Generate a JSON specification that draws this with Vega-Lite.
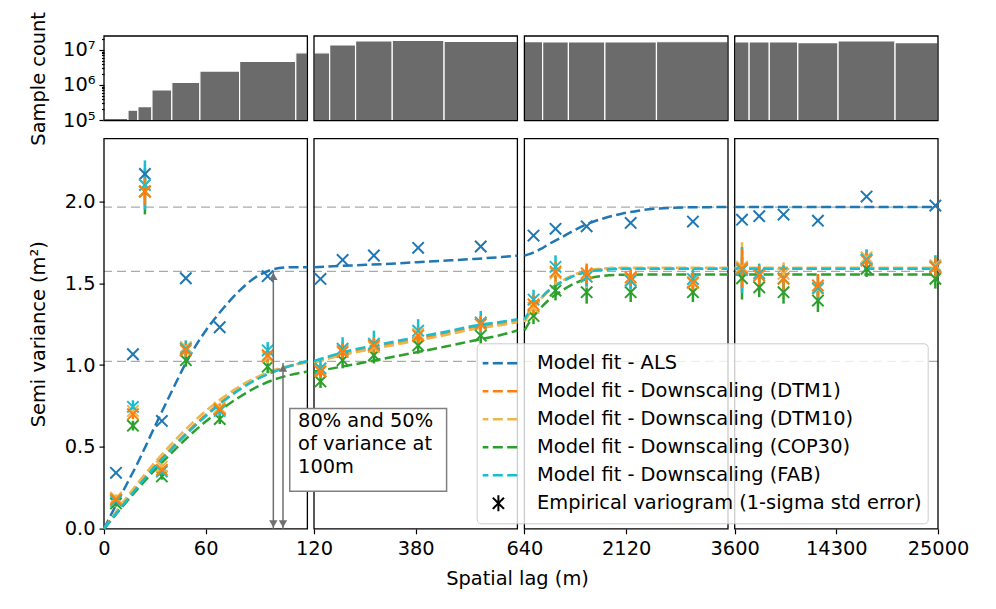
{
  "$schema": "https://vega.github.io/schema/vega-lite/v6.json",
  "background": "white",
  "padding": {"left": 28, "top": 11, "right": 5, "bottom": 5},
  "config": {
    "font": "DejaVu Sans",
    "view": {"stroke": null},
    "axis": {"labelFontSize": 19.4, "titleFontSize": 19.4, "titleFontWeight": "normal", "labelColor": "black", "titleColor": "black", "tickColor": "black", "domain": false, "grid": false, "tickSize": 5, "tickWidth": 1.2, "labelFlush": false, "labelOverlap": false, "labelPadding": 4}
  },
  "datasets": {
    "hist": [
      {"lo": 0, "hi": 14.14, "count": 112000},
      {"lo": 14.14, "hi": 20, "count": 190000},
      {"lo": 20, "hi": 28.28, "count": 240000},
      {"lo": 28.28, "hi": 40, "count": 720000},
      {"lo": 40, "hi": 56.57, "count": 1190000},
      {"lo": 56.57, "hi": 80, "count": 2500000},
      {"lo": 80, "hi": 113.14, "count": 4750000},
      {"lo": 113.14, "hi": 119.99, "count": 8300000},
      {"lo": 120, "hi": 160, "count": 8300000},
      {"lo": 160, "hi": 226.27, "count": 13900000},
      {"lo": 226.27, "hi": 320, "count": 18100000},
      {"lo": 320, "hi": 452.55, "count": 18900000},
      {"lo": 452.55, "hi": 639.99, "count": 17700000},
      {"lo": 640, "hi": 905.1, "count": 17300000},
      {"lo": 905.1, "hi": 1280, "count": 16900000},
      {"lo": 1280, "hi": 1810.2, "count": 16900000},
      {"lo": 1810.2, "hi": 2560, "count": 16900000},
      {"lo": 2560, "hi": 3599.99, "count": 17200000},
      {"lo": 3600, "hi": 5120, "count": 16900000},
      {"lo": 5120, "hi": 7240.8, "count": 16900000},
      {"lo": 7240.8, "hi": 10240, "count": 16900000},
      {"lo": 10240, "hi": 14481.5, "count": 16200000},
      {"lo": 14481.5, "hi": 20480, "count": 18100000},
      {"lo": 20480, "hi": 25000, "count": 16200000}
    ],
    "frames": [
      {"lo": 0, "hi": 119.99},
      {"lo": 120, "hi": 639.99},
      {"lo": 640, "hi": 3599.99},
      {"lo": 3600, "hi": 25000}
    ],
    "ref": [{"v": 1.965}, {"v": 1.572}, {"v": 1.022}],
    "arrows": [{"lag": 99.9, "top": 1.572, "base": 0}, {"lag": 105.6, "top": 1.012, "base": 0}],
    "note": [{"x1": 109.6, "x2": 459, "y1": 0.735, "y2": 0.229, "tx": 114.5, "ty": 0.711, "text": "80% and 50%\nof variance at\n100m"}],
    "emp": [
      {"s": "Model fit - ALS", "lag": 7.07, "v": 0.342, "lo": 0.337, "hi": 0.347},
      {"s": "Model fit - ALS", "lag": 17.07, "v": 1.066, "lo": 1.061, "hi": 1.071},
      {"s": "Model fit - ALS", "lag": 24.14, "v": 2.167, "lo": 2.162, "hi": 2.172},
      {"s": "Model fit - ALS", "lag": 34.14, "v": 0.659, "lo": 0.654, "hi": 0.664},
      {"s": "Model fit - ALS", "lag": 48.28, "v": 1.53, "lo": 1.525, "hi": 1.535},
      {"s": "Model fit - ALS", "lag": 68.28, "v": 1.231, "lo": 1.226, "hi": 1.236},
      {"s": "Model fit - ALS", "lag": 96.57, "v": 1.543, "lo": 1.538, "hi": 1.548},
      {"s": "Model fit - ALS", "lag": 136.57, "v": 1.526, "lo": 1.521, "hi": 1.531},
      {"s": "Model fit - ALS", "lag": 193.14, "v": 1.642, "lo": 1.637, "hi": 1.647},
      {"s": "Model fit - ALS", "lag": 273.14, "v": 1.669, "lo": 1.664, "hi": 1.674},
      {"s": "Model fit - ALS", "lag": 386.27, "v": 1.716, "lo": 1.711, "hi": 1.721},
      {"s": "Model fit - ALS", "lag": 546.27, "v": 1.724, "lo": 1.719, "hi": 1.729},
      {"s": "Model fit - ALS", "lag": 772.5, "v": 1.791, "lo": 1.786, "hi": 1.796},
      {"s": "Model fit - ALS", "lag": 1092.5, "v": 1.832, "lo": 1.827, "hi": 1.837},
      {"s": "Model fit - ALS", "lag": 1545.1, "v": 1.847, "lo": 1.842, "hi": 1.852},
      {"s": "Model fit - ALS", "lag": 2185.1, "v": 1.868, "lo": 1.863, "hi": 1.873},
      {"s": "Model fit - ALS", "lag": 3090.2, "v": 1.876, "lo": 1.871, "hi": 1.881},
      {"s": "Model fit - ALS", "lag": 4370.2, "v": 1.888, "lo": 1.883, "hi": 1.893},
      {"s": "Model fit - ALS", "lag": 6180.4, "v": 1.909, "lo": 1.904, "hi": 1.914},
      {"s": "Model fit - ALS", "lag": 8740.4, "v": 1.919, "lo": 1.914, "hi": 1.924},
      {"s": "Model fit - ALS", "lag": 12360.7, "v": 1.882, "lo": 1.877, "hi": 1.887},
      {"s": "Model fit - ALS", "lag": 17480.7, "v": 2.029, "lo": 2.024, "hi": 2.034},
      {"s": "Model fit - ALS", "lag": 24721.5, "v": 1.974, "lo": 1.969, "hi": 1.979},

      {"s": "Model fit - Downscaling (COP30)", "lag": 7.07, "v": 0.155, "lo": 0.135, "hi": 0.175},
      {"s": "Model fit - Downscaling (COP30)", "lag": 17.07, "v": 0.63, "lo": 0.60, "hi": 0.66},
      {"s": "Model fit - Downscaling (COP30)", "lag": 24.14, "v": 2.06, "lo": 1.92, "hi": 2.20},
      {"s": "Model fit - Downscaling (COP30)", "lag": 34.14, "v": 0.32, "lo": 0.30, "hi": 0.34},
      {"s": "Model fit - Downscaling (COP30)", "lag": 48.28, "v": 1.03, "lo": 0.99, "hi": 1.07},
      {"s": "Model fit - Downscaling (COP30)", "lag": 68.28, "v": 0.67, "lo": 0.64, "hi": 0.70},
      {"s": "Model fit - Downscaling (COP30)", "lag": 96.57, "v": 0.99, "lo": 0.95, "hi": 1.03},
      {"s": "Model fit - Downscaling (COP30)", "lag": 136.57, "v": 0.90, "lo": 0.86, "hi": 0.94},
      {"s": "Model fit - Downscaling (COP30)", "lag": 193.14, "v": 1.03, "lo": 0.98, "hi": 1.08},
      {"s": "Model fit - Downscaling (COP30)", "lag": 273.14, "v": 1.06, "lo": 1.01, "hi": 1.11},
      {"s": "Model fit - Downscaling (COP30)", "lag": 386.27, "v": 1.12, "lo": 1.07, "hi": 1.17},
      {"s": "Model fit - Downscaling (COP30)", "lag": 546.27, "v": 1.18, "lo": 1.13, "hi": 1.23},
      {"s": "Model fit - Downscaling (COP30)", "lag": 772.5, "v": 1.30, "lo": 1.25, "hi": 1.35},
      {"s": "Model fit - Downscaling (COP30)", "lag": 1092.5, "v": 1.455, "lo": 1.395, "hi": 1.515},
      {"s": "Model fit - Downscaling (COP30)", "lag": 1545.1, "v": 1.445, "lo": 1.375, "hi": 1.515},
      {"s": "Model fit - Downscaling (COP30)", "lag": 2185.1, "v": 1.445, "lo": 1.385, "hi": 1.505},
      {"s": "Model fit - Downscaling (COP30)", "lag": 3090.2, "v": 1.445, "lo": 1.385, "hi": 1.505},
      {"s": "Model fit - Downscaling (COP30)", "lag": 4370.2, "v": 1.53, "lo": 1.40, "hi": 1.66},
      {"s": "Model fit - Downscaling (COP30)", "lag": 6180.4, "v": 1.475, "lo": 1.415, "hi": 1.535},
      {"s": "Model fit - Downscaling (COP30)", "lag": 8740.4, "v": 1.445, "lo": 1.375, "hi": 1.515},
      {"s": "Model fit - Downscaling (COP30)", "lag": 12360.7, "v": 1.394, "lo": 1.324, "hi": 1.464},
      {"s": "Model fit - Downscaling (COP30)", "lag": 17480.7, "v": 1.588, "lo": 1.538, "hi": 1.638},
      {"s": "Model fit - Downscaling (COP30)", "lag": 24721.5, "v": 1.527, "lo": 1.467, "hi": 1.587},

      {"s": "Model fit - Downscaling (DTM10)", "lag": 7.07, "v": 0.19, "lo": 0.17, "hi": 0.21},
      {"s": "Model fit - Downscaling (DTM10)", "lag": 17.07, "v": 0.72, "lo": 0.69, "hi": 0.75},
      {"s": "Model fit - Downscaling (DTM10)", "lag": 24.14, "v": 2.10, "lo": 2.02, "hi": 2.18},
      {"s": "Model fit - Downscaling (DTM10)", "lag": 34.14, "v": 0.38, "lo": 0.36, "hi": 0.40},
      {"s": "Model fit - Downscaling (DTM10)", "lag": 48.28, "v": 1.11, "lo": 1.07, "hi": 1.15},
      {"s": "Model fit - Downscaling (DTM10)", "lag": 68.28, "v": 0.74, "lo": 0.71, "hi": 0.77},
      {"s": "Model fit - Downscaling (DTM10)", "lag": 96.57, "v": 1.05, "lo": 1.01, "hi": 1.09},
      {"s": "Model fit - Downscaling (DTM10)", "lag": 136.57, "v": 0.97, "lo": 0.93, "hi": 1.01},
      {"s": "Model fit - Downscaling (DTM10)", "lag": 193.14, "v": 1.09, "lo": 1.04, "hi": 1.14},
      {"s": "Model fit - Downscaling (DTM10)", "lag": 273.14, "v": 1.11, "lo": 1.06, "hi": 1.16},
      {"s": "Model fit - Downscaling (DTM10)", "lag": 386.27, "v": 1.19, "lo": 1.14, "hi": 1.24},
      {"s": "Model fit - Downscaling (DTM10)", "lag": 546.27, "v": 1.25, "lo": 1.20, "hi": 1.30},
      {"s": "Model fit - Downscaling (DTM10)", "lag": 772.5, "v": 1.35, "lo": 1.28, "hi": 1.42},
      {"s": "Model fit - Downscaling (DTM10)", "lag": 1092.5, "v": 1.56, "lo": 1.49, "hi": 1.63},
      {"s": "Model fit - Downscaling (DTM10)", "lag": 1545.1, "v": 1.54, "lo": 1.47, "hi": 1.61},
      {"s": "Model fit - Downscaling (DTM10)", "lag": 2185.1, "v": 1.52, "lo": 1.46, "hi": 1.58},
      {"s": "Model fit - Downscaling (DTM10)", "lag": 3090.2, "v": 1.50, "lo": 1.44, "hi": 1.56},
      {"s": "Model fit - Downscaling (DTM10)", "lag": 4370.2, "v": 1.60, "lo": 1.45, "hi": 1.75},
      {"s": "Model fit - Downscaling (DTM10)", "lag": 6180.4, "v": 1.55, "lo": 1.49, "hi": 1.61},
      {"s": "Model fit - Downscaling (DTM10)", "lag": 8740.4, "v": 1.557, "lo": 1.487, "hi": 1.627},
      {"s": "Model fit - Downscaling (DTM10)", "lag": 12360.7, "v": 1.465, "lo": 1.395, "hi": 1.535},
      {"s": "Model fit - Downscaling (DTM10)", "lag": 17480.7, "v": 1.658, "lo": 1.608, "hi": 1.708},
      {"s": "Model fit - Downscaling (DTM10)", "lag": 24721.5, "v": 1.61, "lo": 1.55, "hi": 1.67},

      {"s": "Model fit - Downscaling (FAB)", "lag": 7.07, "v": 0.17, "lo": 0.145, "hi": 0.195},
      {"s": "Model fit - Downscaling (FAB)", "lag": 17.07, "v": 0.745, "lo": 0.705, "hi": 0.785},
      {"s": "Model fit - Downscaling (FAB)", "lag": 24.14, "v": 2.10, "lo": 1.95, "hi": 2.25},
      {"s": "Model fit - Downscaling (FAB)", "lag": 34.14, "v": 0.35, "lo": 0.325, "hi": 0.375},
      {"s": "Model fit - Downscaling (FAB)", "lag": 48.28, "v": 1.10, "lo": 1.05, "hi": 1.15},
      {"s": "Model fit - Downscaling (FAB)", "lag": 68.28, "v": 0.72, "lo": 0.69, "hi": 0.75},
      {"s": "Model fit - Downscaling (FAB)", "lag": 96.57, "v": 1.09, "lo": 1.04, "hi": 1.14},
      {"s": "Model fit - Downscaling (FAB)", "lag": 136.57, "v": 0.98, "lo": 0.93, "hi": 1.03},
      {"s": "Model fit - Downscaling (FAB)", "lag": 193.14, "v": 1.10, "lo": 1.03, "hi": 1.17},
      {"s": "Model fit - Downscaling (FAB)", "lag": 273.14, "v": 1.13, "lo": 1.05, "hi": 1.21},
      {"s": "Model fit - Downscaling (FAB)", "lag": 386.27, "v": 1.21, "lo": 1.14, "hi": 1.28},
      {"s": "Model fit - Downscaling (FAB)", "lag": 546.27, "v": 1.26, "lo": 1.19, "hi": 1.33},
      {"s": "Model fit - Downscaling (FAB)", "lag": 772.5, "v": 1.40, "lo": 1.34, "hi": 1.46},
      {"s": "Model fit - Downscaling (FAB)", "lag": 1092.5, "v": 1.60, "lo": 1.53, "hi": 1.67},
      {"s": "Model fit - Downscaling (FAB)", "lag": 1545.1, "v": 1.54, "lo": 1.48, "hi": 1.60},
      {"s": "Model fit - Downscaling (FAB)", "lag": 2185.1, "v": 1.515, "lo": 1.465, "hi": 1.565},
      {"s": "Model fit - Downscaling (FAB)", "lag": 3090.2, "v": 1.525, "lo": 1.465, "hi": 1.585},
      {"s": "Model fit - Downscaling (FAB)", "lag": 4370.2, "v": 1.58, "lo": 1.44, "hi": 1.72},
      {"s": "Model fit - Downscaling (FAB)", "lag": 6180.4, "v": 1.56, "lo": 1.50, "hi": 1.62},
      {"s": "Model fit - Downscaling (FAB)", "lag": 8740.4, "v": 1.53, "lo": 1.45, "hi": 1.61},
      {"s": "Model fit - Downscaling (FAB)", "lag": 12360.7, "v": 1.47, "lo": 1.39, "hi": 1.55},
      {"s": "Model fit - Downscaling (FAB)", "lag": 17480.7, "v": 1.645, "lo": 1.585, "hi": 1.705},
      {"s": "Model fit - Downscaling (FAB)", "lag": 24721.5, "v": 1.60, "lo": 1.53, "hi": 1.67},

      {"s": "Model fit - Downscaling (DTM1)", "lag": 7.07, "v": 0.18, "lo": 0.16, "hi": 0.20},
      {"s": "Model fit - Downscaling (DTM1)", "lag": 17.07, "v": 0.70, "lo": 0.67, "hi": 0.73},
      {"s": "Model fit - Downscaling (DTM1)", "lag": 24.14, "v": 2.06, "lo": 1.98, "hi": 2.14},
      {"s": "Model fit - Downscaling (DTM1)", "lag": 34.14, "v": 0.36, "lo": 0.34, "hi": 0.38},
      {"s": "Model fit - Downscaling (DTM1)", "lag": 48.28, "v": 1.09, "lo": 1.05, "hi": 1.13},
      {"s": "Model fit - Downscaling (DTM1)", "lag": 68.28, "v": 0.73, "lo": 0.70, "hi": 0.76},
      {"s": "Model fit - Downscaling (DTM1)", "lag": 96.57, "v": 1.06, "lo": 1.02, "hi": 1.10},
      {"s": "Model fit - Downscaling (DTM1)", "lag": 136.57, "v": 0.96, "lo": 0.92, "hi": 1.00},
      {"s": "Model fit - Downscaling (DTM1)", "lag": 193.14, "v": 1.08, "lo": 1.03, "hi": 1.13},
      {"s": "Model fit - Downscaling (DTM1)", "lag": 273.14, "v": 1.12, "lo": 1.07, "hi": 1.17},
      {"s": "Model fit - Downscaling (DTM1)", "lag": 386.27, "v": 1.18, "lo": 1.13, "hi": 1.23},
      {"s": "Model fit - Downscaling (DTM1)", "lag": 546.27, "v": 1.25, "lo": 1.20, "hi": 1.30},
      {"s": "Model fit - Downscaling (DTM1)", "lag": 772.5, "v": 1.37, "lo": 1.31, "hi": 1.43},
      {"s": "Model fit - Downscaling (DTM1)", "lag": 1092.5, "v": 1.57, "lo": 1.51, "hi": 1.63},
      {"s": "Model fit - Downscaling (DTM1)", "lag": 1545.1, "v": 1.56, "lo": 1.50, "hi": 1.62},
      {"s": "Model fit - Downscaling (DTM1)", "lag": 2185.1, "v": 1.535, "lo": 1.485, "hi": 1.585},
      {"s": "Model fit - Downscaling (DTM1)", "lag": 3090.2, "v": 1.505, "lo": 1.445, "hi": 1.565},
      {"s": "Model fit - Downscaling (DTM1)", "lag": 4370.2, "v": 1.59, "lo": 1.47, "hi": 1.71},
      {"s": "Model fit - Downscaling (DTM1)", "lag": 6180.4, "v": 1.547, "lo": 1.487, "hi": 1.607},
      {"s": "Model fit - Downscaling (DTM1)", "lag": 8740.4, "v": 1.527, "lo": 1.457, "hi": 1.597},
      {"s": "Model fit - Downscaling (DTM1)", "lag": 12360.7, "v": 1.486, "lo": 1.416, "hi": 1.556},
      {"s": "Model fit - Downscaling (DTM1)", "lag": 17480.7, "v": 1.638, "lo": 1.588, "hi": 1.688},
      {"s": "Model fit - Downscaling (DTM1)", "lag": 24721.5, "v": 1.597, "lo": 1.537, "hi": 1.657}
    ],
    "fit": [
      {"s": "Model fit - ALS", "p": 1, "lag": 0, "v": 0},
      {"s": "Model fit - ALS", "p": 1, "lag": 10, "v": 0.205},
      {"s": "Model fit - ALS", "p": 1, "lag": 20, "v": 0.405},
      {"s": "Model fit - ALS", "p": 1, "lag": 30, "v": 0.625},
      {"s": "Model fit - ALS", "p": 1, "lag": 40, "v": 0.84},
      {"s": "Model fit - ALS", "p": 1, "lag": 50, "v": 1.045},
      {"s": "Model fit - ALS", "p": 1, "lag": 60, "v": 1.21},
      {"s": "Model fit - ALS", "p": 1, "lag": 70, "v": 1.342},
      {"s": "Model fit - ALS", "p": 1, "lag": 80, "v": 1.455},
      {"s": "Model fit - ALS", "p": 1, "lag": 90, "v": 1.54},
      {"s": "Model fit - ALS", "p": 1, "lag": 100, "v": 1.585},
      {"s": "Model fit - ALS", "p": 1, "lag": 110, "v": 1.597},
      {"s": "Model fit - ALS", "p": 1, "lag": 119.99, "v": 1.598},
      {"s": "Model fit - ALS", "p": 2, "lag": 120, "v": 1.598},
      {"s": "Model fit - ALS", "p": 2, "lag": 214, "v": 1.608},
      {"s": "Model fit - ALS", "p": 2, "lag": 300, "v": 1.617},
      {"s": "Model fit - ALS", "p": 2, "lag": 384, "v": 1.628},
      {"s": "Model fit - ALS", "p": 2, "lag": 460, "v": 1.638},
      {"s": "Model fit - ALS", "p": 2, "lag": 529, "v": 1.648},
      {"s": "Model fit - ALS", "p": 2, "lag": 600, "v": 1.66},
      {"s": "Model fit - ALS", "p": 2, "lag": 639.99, "v": 1.668},
      {"s": "Model fit - ALS", "p": 3, "lag": 640, "v": 1.668},
      {"s": "Model fit - ALS", "p": 3, "lag": 760, "v": 1.685},
      {"s": "Model fit - ALS", "p": 3, "lag": 878, "v": 1.709},
      {"s": "Model fit - ALS", "p": 3, "lag": 1000, "v": 1.74},
      {"s": "Model fit - ALS", "p": 3, "lag": 1168, "v": 1.777},
      {"s": "Model fit - ALS", "p": 3, "lag": 1350, "v": 1.82},
      {"s": "Model fit - ALS", "p": 3, "lag": 1556, "v": 1.862},
      {"s": "Model fit - ALS", "p": 3, "lag": 1800, "v": 1.897},
      {"s": "Model fit - ALS", "p": 3, "lag": 2041, "v": 1.923},
      {"s": "Model fit - ALS", "p": 3, "lag": 2300, "v": 1.943},
      {"s": "Model fit - ALS", "p": 3, "lag": 2525, "v": 1.954},
      {"s": "Model fit - ALS", "p": 3, "lag": 3010, "v": 1.963},
      {"s": "Model fit - ALS", "p": 3, "lag": 3599.99, "v": 1.965},
      {"s": "Model fit - ALS", "p": 4, "lag": 3600, "v": 1.965},
      {"s": "Model fit - ALS", "p": 4, "lag": 25000, "v": 1.965},

      {"s": "Model fit - Downscaling (DTM1)", "p": 1, "lag": 0, "v": 0},
      {"s": "Model fit - Downscaling (DTM1)", "p": 1, "lag": 10, "v": 0.135},
      {"s": "Model fit - Downscaling (DTM1)", "p": 1, "lag": 20, "v": 0.265},
      {"s": "Model fit - Downscaling (DTM1)", "p": 1, "lag": 30, "v": 0.385},
      {"s": "Model fit - Downscaling (DTM1)", "p": 1, "lag": 40, "v": 0.495},
      {"s": "Model fit - Downscaling (DTM1)", "p": 1, "lag": 50, "v": 0.6},
      {"s": "Model fit - Downscaling (DTM1)", "p": 1, "lag": 60, "v": 0.695},
      {"s": "Model fit - Downscaling (DTM1)", "p": 1, "lag": 70, "v": 0.78},
      {"s": "Model fit - Downscaling (DTM1)", "p": 1, "lag": 80, "v": 0.855},
      {"s": "Model fit - Downscaling (DTM1)", "p": 1, "lag": 90, "v": 0.915},
      {"s": "Model fit - Downscaling (DTM1)", "p": 1, "lag": 100, "v": 0.96},
      {"s": "Model fit - Downscaling (DTM1)", "p": 1, "lag": 110, "v": 0.995},
      {"s": "Model fit - Downscaling (DTM1)", "p": 1, "lag": 119.99, "v": 1.018},
      {"s": "Model fit - Downscaling (DTM1)", "p": 2, "lag": 120, "v": 1.018},
      {"s": "Model fit - Downscaling (DTM1)", "p": 2, "lag": 214, "v": 1.079},
      {"s": "Model fit - Downscaling (DTM1)", "p": 2, "lag": 300, "v": 1.12},
      {"s": "Model fit - Downscaling (DTM1)", "p": 2, "lag": 386, "v": 1.16},
      {"s": "Model fit - Downscaling (DTM1)", "p": 2, "lag": 460, "v": 1.195},
      {"s": "Model fit - Downscaling (DTM1)", "p": 2, "lag": 529, "v": 1.231},
      {"s": "Model fit - Downscaling (DTM1)", "p": 2, "lag": 600, "v": 1.255},
      {"s": "Model fit - Downscaling (DTM1)", "p": 2, "lag": 639.99, "v": 1.272},
      {"s": "Model fit - Downscaling (DTM1)", "p": 3, "lag": 640, "v": 1.272},
      {"s": "Model fit - Downscaling (DTM1)", "p": 3, "lag": 760, "v": 1.345},
      {"s": "Model fit - Downscaling (DTM1)", "p": 3, "lag": 880, "v": 1.405},
      {"s": "Model fit - Downscaling (DTM1)", "p": 3, "lag": 1000, "v": 1.455},
      {"s": "Model fit - Downscaling (DTM1)", "p": 3, "lag": 1170, "v": 1.505},
      {"s": "Model fit - Downscaling (DTM1)", "p": 3, "lag": 1350, "v": 1.545},
      {"s": "Model fit - Downscaling (DTM1)", "p": 3, "lag": 1560, "v": 1.572},
      {"s": "Model fit - Downscaling (DTM1)", "p": 3, "lag": 1800, "v": 1.585},
      {"s": "Model fit - Downscaling (DTM1)", "p": 3, "lag": 2100, "v": 1.59},
      {"s": "Model fit - Downscaling (DTM1)", "p": 3, "lag": 3599.99, "v": 1.59},
      {"s": "Model fit - Downscaling (DTM1)", "p": 4, "lag": 3600, "v": 1.59},
      {"s": "Model fit - Downscaling (DTM1)", "p": 4, "lag": 25000, "v": 1.59},

      {"s": "Model fit - Downscaling (DTM10)", "p": 1, "lag": 0, "v": 0},
      {"s": "Model fit - Downscaling (DTM10)", "p": 1, "lag": 10, "v": 0.145},
      {"s": "Model fit - Downscaling (DTM10)", "p": 1, "lag": 20, "v": 0.28},
      {"s": "Model fit - Downscaling (DTM10)", "p": 1, "lag": 30, "v": 0.405},
      {"s": "Model fit - Downscaling (DTM10)", "p": 1, "lag": 40, "v": 0.52},
      {"s": "Model fit - Downscaling (DTM10)", "p": 1, "lag": 50, "v": 0.625},
      {"s": "Model fit - Downscaling (DTM10)", "p": 1, "lag": 60, "v": 0.72},
      {"s": "Model fit - Downscaling (DTM10)", "p": 1, "lag": 70, "v": 0.8},
      {"s": "Model fit - Downscaling (DTM10)", "p": 1, "lag": 80, "v": 0.87},
      {"s": "Model fit - Downscaling (DTM10)", "p": 1, "lag": 90, "v": 0.925},
      {"s": "Model fit - Downscaling (DTM10)", "p": 1, "lag": 100, "v": 0.968},
      {"s": "Model fit - Downscaling (DTM10)", "p": 1, "lag": 110, "v": 0.998},
      {"s": "Model fit - Downscaling (DTM10)", "p": 1, "lag": 119.99, "v": 1.015},
      {"s": "Model fit - Downscaling (DTM10)", "p": 2, "lag": 120, "v": 1.015},
      {"s": "Model fit - Downscaling (DTM10)", "p": 2, "lag": 214, "v": 1.072},
      {"s": "Model fit - Downscaling (DTM10)", "p": 2, "lag": 300, "v": 1.112},
      {"s": "Model fit - Downscaling (DTM10)", "p": 2, "lag": 386, "v": 1.15},
      {"s": "Model fit - Downscaling (DTM10)", "p": 2, "lag": 460, "v": 1.185},
      {"s": "Model fit - Downscaling (DTM10)", "p": 2, "lag": 529, "v": 1.22},
      {"s": "Model fit - Downscaling (DTM10)", "p": 2, "lag": 600, "v": 1.245},
      {"s": "Model fit - Downscaling (DTM10)", "p": 2, "lag": 639.99, "v": 1.262},
      {"s": "Model fit - Downscaling (DTM10)", "p": 3, "lag": 640, "v": 1.262},
      {"s": "Model fit - Downscaling (DTM10)", "p": 3, "lag": 760, "v": 1.34},
      {"s": "Model fit - Downscaling (DTM10)", "p": 3, "lag": 880, "v": 1.405},
      {"s": "Model fit - Downscaling (DTM10)", "p": 3, "lag": 1000, "v": 1.458},
      {"s": "Model fit - Downscaling (DTM10)", "p": 3, "lag": 1170, "v": 1.51},
      {"s": "Model fit - Downscaling (DTM10)", "p": 3, "lag": 1350, "v": 1.55},
      {"s": "Model fit - Downscaling (DTM10)", "p": 3, "lag": 1560, "v": 1.578},
      {"s": "Model fit - Downscaling (DTM10)", "p": 3, "lag": 1800, "v": 1.59},
      {"s": "Model fit - Downscaling (DTM10)", "p": 3, "lag": 2100, "v": 1.595},
      {"s": "Model fit - Downscaling (DTM10)", "p": 3, "lag": 3599.99, "v": 1.595},
      {"s": "Model fit - Downscaling (DTM10)", "p": 4, "lag": 3600, "v": 1.595},
      {"s": "Model fit - Downscaling (DTM10)", "p": 4, "lag": 25000, "v": 1.595},

      {"s": "Model fit - Downscaling (COP30)", "p": 1, "lag": 0, "v": 0},
      {"s": "Model fit - Downscaling (COP30)", "p": 1, "lag": 10, "v": 0.125},
      {"s": "Model fit - Downscaling (COP30)", "p": 1, "lag": 20, "v": 0.245},
      {"s": "Model fit - Downscaling (COP30)", "p": 1, "lag": 30, "v": 0.36},
      {"s": "Model fit - Downscaling (COP30)", "p": 1, "lag": 40, "v": 0.465},
      {"s": "Model fit - Downscaling (COP30)", "p": 1, "lag": 50, "v": 0.565},
      {"s": "Model fit - Downscaling (COP30)", "p": 1, "lag": 60, "v": 0.655},
      {"s": "Model fit - Downscaling (COP30)", "p": 1, "lag": 70, "v": 0.735},
      {"s": "Model fit - Downscaling (COP30)", "p": 1, "lag": 80, "v": 0.805},
      {"s": "Model fit - Downscaling (COP30)", "p": 1, "lag": 90, "v": 0.865},
      {"s": "Model fit - Downscaling (COP30)", "p": 1, "lag": 100, "v": 0.91},
      {"s": "Model fit - Downscaling (COP30)", "p": 1, "lag": 110, "v": 0.94},
      {"s": "Model fit - Downscaling (COP30)", "p": 1, "lag": 119.99, "v": 0.96},
      {"s": "Model fit - Downscaling (COP30)", "p": 2, "lag": 120, "v": 0.96},
      {"s": "Model fit - Downscaling (COP30)", "p": 2, "lag": 214, "v": 1.0},
      {"s": "Model fit - Downscaling (COP30)", "p": 2, "lag": 300, "v": 1.04},
      {"s": "Model fit - Downscaling (COP30)", "p": 2, "lag": 386, "v": 1.08},
      {"s": "Model fit - Downscaling (COP30)", "p": 2, "lag": 460, "v": 1.115},
      {"s": "Model fit - Downscaling (COP30)", "p": 2, "lag": 529, "v": 1.15},
      {"s": "Model fit - Downscaling (COP30)", "p": 2, "lag": 600, "v": 1.185},
      {"s": "Model fit - Downscaling (COP30)", "p": 2, "lag": 639.99, "v": 1.211},
      {"s": "Model fit - Downscaling (COP30)", "p": 3, "lag": 640, "v": 1.211},
      {"s": "Model fit - Downscaling (COP30)", "p": 3, "lag": 760, "v": 1.29},
      {"s": "Model fit - Downscaling (COP30)", "p": 3, "lag": 880, "v": 1.35},
      {"s": "Model fit - Downscaling (COP30)", "p": 3, "lag": 1000, "v": 1.40},
      {"s": "Model fit - Downscaling (COP30)", "p": 3, "lag": 1170, "v": 1.45},
      {"s": "Model fit - Downscaling (COP30)", "p": 3, "lag": 1350, "v": 1.495},
      {"s": "Model fit - Downscaling (COP30)", "p": 3, "lag": 1560, "v": 1.527},
      {"s": "Model fit - Downscaling (COP30)", "p": 3, "lag": 1800, "v": 1.545},
      {"s": "Model fit - Downscaling (COP30)", "p": 3, "lag": 2100, "v": 1.552},
      {"s": "Model fit - Downscaling (COP30)", "p": 3, "lag": 3599.99, "v": 1.553},
      {"s": "Model fit - Downscaling (COP30)", "p": 4, "lag": 3600, "v": 1.553},
      {"s": "Model fit - Downscaling (COP30)", "p": 4, "lag": 25000, "v": 1.553},

      {"s": "Model fit - Downscaling (FAB)", "p": 1, "lag": 0, "v": 0},
      {"s": "Model fit - Downscaling (FAB)", "p": 1, "lag": 10, "v": 0.13},
      {"s": "Model fit - Downscaling (FAB)", "p": 1, "lag": 20, "v": 0.258},
      {"s": "Model fit - Downscaling (FAB)", "p": 1, "lag": 30, "v": 0.378},
      {"s": "Model fit - Downscaling (FAB)", "p": 1, "lag": 40, "v": 0.488},
      {"s": "Model fit - Downscaling (FAB)", "p": 1, "lag": 50, "v": 0.592},
      {"s": "Model fit - Downscaling (FAB)", "p": 1, "lag": 60, "v": 0.688},
      {"s": "Model fit - Downscaling (FAB)", "p": 1, "lag": 70, "v": 0.775},
      {"s": "Model fit - Downscaling (FAB)", "p": 1, "lag": 80, "v": 0.85},
      {"s": "Model fit - Downscaling (FAB)", "p": 1, "lag": 90, "v": 0.912},
      {"s": "Model fit - Downscaling (FAB)", "p": 1, "lag": 100, "v": 0.958},
      {"s": "Model fit - Downscaling (FAB)", "p": 1, "lag": 110, "v": 0.995},
      {"s": "Model fit - Downscaling (FAB)", "p": 1, "lag": 119.99, "v": 1.025},
      {"s": "Model fit - Downscaling (FAB)", "p": 2, "lag": 120, "v": 1.025},
      {"s": "Model fit - Downscaling (FAB)", "p": 2, "lag": 214, "v": 1.09},
      {"s": "Model fit - Downscaling (FAB)", "p": 2, "lag": 300, "v": 1.132},
      {"s": "Model fit - Downscaling (FAB)", "p": 2, "lag": 386, "v": 1.172},
      {"s": "Model fit - Downscaling (FAB)", "p": 2, "lag": 460, "v": 1.205},
      {"s": "Model fit - Downscaling (FAB)", "p": 2, "lag": 529, "v": 1.24},
      {"s": "Model fit - Downscaling (FAB)", "p": 2, "lag": 600, "v": 1.265},
      {"s": "Model fit - Downscaling (FAB)", "p": 2, "lag": 639.99, "v": 1.28},
      {"s": "Model fit - Downscaling (FAB)", "p": 3, "lag": 640, "v": 1.28},
      {"s": "Model fit - Downscaling (FAB)", "p": 3, "lag": 760, "v": 1.352},
      {"s": "Model fit - Downscaling (FAB)", "p": 3, "lag": 880, "v": 1.41},
      {"s": "Model fit - Downscaling (FAB)", "p": 3, "lag": 1000, "v": 1.458},
      {"s": "Model fit - Downscaling (FAB)", "p": 3, "lag": 1170, "v": 1.505},
      {"s": "Model fit - Downscaling (FAB)", "p": 3, "lag": 1350, "v": 1.543},
      {"s": "Model fit - Downscaling (FAB)", "p": 3, "lag": 1560, "v": 1.57},
      {"s": "Model fit - Downscaling (FAB)", "p": 3, "lag": 1800, "v": 1.583},
      {"s": "Model fit - Downscaling (FAB)", "p": 3, "lag": 2100, "v": 1.588},
      {"s": "Model fit - Downscaling (FAB)", "p": 3, "lag": 3599.99, "v": 1.588},
      {"s": "Model fit - Downscaling (FAB)", "p": 4, "lag": 3600, "v": 1.588},
      {"s": "Model fit - Downscaling (FAB)", "p": 4, "lag": 25000, "v": 1.588}
    ]
  },
  "bounds": "flush",
  "spacing": 17.6,
  "resolve": {"scale": {"color": "independent"}},
  "vconcat": [
    {
      "width": 834,
      "height": 84.7,
      "layer": [
        {
          "data": {"name": "hist"},
          "mark": {"type": "rect", "color": "#6b6b6b", "stroke": "white", "strokeWidth": 1.2},
          "encoding": {
            "x": {"field": "lo", "type": "quantitative", "axis": null,
                  "scale": {"domain": [0, 120, 120, 640, 640, 3600, 3600, 25000], "range": [0, 203.4, 210, 413.4, 420.4, 624, 630.7, 834], "nice": false, "zero": false}},
            "x2": {"field": "hi"},
            "y": {"field": "count", "type": "quantitative",
                  "scale": {"type": "log", "domain": [95500, 25100000], "nice": false},
                  "axis": {"title": "Sample count", "titleX": -56,
                           "values": [100000, 200000, 300000, 400000, 500000, 600000, 700000, 800000, 900000, 1000000, 2000000, 3000000, 4000000, 5000000, 6000000, 7000000, 8000000, 9000000, 10000000, 20000000],
                           "labelExpr": "datum.value == 100000 ? '10⁵' : datum.value == 1000000 ? '10⁶' : datum.value == 10000000 ? '10⁷' : ''",
                           "tickSize": {"condition": {"test": "datum.value == 100000 || datum.value == 1000000 || datum.value == 10000000", "value": 5}, "value": 2.5}}},
            "y2": {"datum": 95500}
          }
        },
        {
          "data": {"name": "frames"},
          "mark": {"type": "rect", "filled": false, "color": "black", "strokeWidth": 1.3},
          "encoding": {
            "x": {"field": "lo", "type": "quantitative"},
            "x2": {"field": "hi"}
          }
        }
      ]
    },
    {
      "width": 834,
      "height": 390.2,
      "encoding": {
        "x": {"type": "quantitative",
              "scale": {"domain": [0, 120, 120, 640, 640, 3600, 3600, 25000], "range": [0, 203.4, 210, 413.4, 420.4, 624, 630.7, 834], "nice": false, "zero": false},
              "axis": {"title": "Spatial lag (m)", "values": [0, 60, 120, 380, 640, 2120, 3600, 14300, 25000], "format": "d", "titlePadding": 11, "labelPadding": 6, "titleX": 413}},
        "y": {"type": "quantitative",
              "scale": {"domain": [0, 2.383], "nice": false, "zero": false},
              "axis": {"title": "Semi variance (m²)", "titleX": -56, "values": [0, 0.5, 1, 1.5, 2], "format": ".1f"}}
      },
      "layer": [
        {
          "data": {"name": "ref"},
          "mark": {"type": "rule", "color": "#aaaaaa", "strokeDash": [9, 5], "strokeWidth": 1.3},
          "encoding": {"y": {"field": "v", "type": "quantitative"}}
        },
        {
          "data": {"name": "frames"},
          "mark": {"type": "rect", "filled": false, "color": "black", "strokeWidth": 1.3},
          "encoding": {"x": {"field": "lo", "type": "quantitative"}, "x2": {"field": "hi"}}
        },
        {
          "data": {"name": "fit"},
          "mark": {"type": "line", "strokeDash": [10, 4.4], "strokeWidth": 2.5, "interpolate": "monotone"},
          "encoding": {
            "x": {"field": "lag", "type": "quantitative"},
            "y": {"field": "v", "type": "quantitative"},
            "detail": {"field": "p", "type": "nominal"},
            "color": {"field": "s", "type": "nominal",
              "scale": {"domain": ["Model fit - ALS", "Model fit - Downscaling (DTM1)", "Model fit - Downscaling (DTM10)", "Model fit - Downscaling (COP30)", "Model fit - Downscaling (FAB)", "Empirical variogram (1-sigma std error)"],
                        "range": ["#1f77b4", "#ff7f0e", "#ebb74f", "#2ca02c", "#17becf", "#000000"]},
              "legend": {"orient": "none", "legendX": 372.7, "legendY": 204.7, "title": null,
                "symbolType": "stroke", "symbolSize": 1600, "symbolStrokeWidth": 2.5, "symbolDash": [10, 4.4], "symbolOffset": 6,
                "labelFontSize": 19.4, "labelColor": "black", "labelOffset": 29, "labelLimit": 500,
                "clipHeight": 28, "rowPadding": 0, "padding": 6,
                "fillColor": "rgba(255,255,255,0.8)", "strokeColor": "#cccccc", "cornerRadius": 4,
                "encode": {"symbols": {"update": {
                  "shape": {"signal": "datum.value === 'Empirical variogram (1-sigma std error)' ? 'M-0.28,-0.28L0.28,0.28M-0.28,0.28L0.28,-0.28M0,-0.4L0,0.4' : 'stroke'"},
                  "strokeDash": {"signal": "datum.value === 'Empirical variogram (1-sigma std error)' ? [1, 0] : [10, 4.4]"},
                  "strokeWidth": {"signal": "datum.value === 'Empirical variogram (1-sigma std error)' ? 2 : 2.5"},
                  "fill": {"value": "transparent"}
                }}}}
            }
          }
        },
        {
          "data": {"name": "emp"},
          "mark": {"type": "rule", "strokeWidth": 2.5},
          "encoding": {
            "x": {"field": "lag", "type": "quantitative"},
            "y": {"field": "lo", "type": "quantitative"},
            "y2": {"field": "hi"},
            "color": {"field": "s", "type": "nominal"}
          }
        },
        {
          "data": {"name": "emp"},
          "mark": {"type": "point", "shape": "M-1,-1L1,1M-1,1L1,-1", "filled": false, "size": 130, "strokeWidth": 2, "opacity": 1},
          "encoding": {
            "x": {"field": "lag", "type": "quantitative"},
            "y": {"field": "v", "type": "quantitative"},
            "color": {"field": "s", "type": "nominal"}
          }
        },
        {
          "data": {"name": "arrows"},
          "mark": {"type": "rule", "color": "#707070", "strokeWidth": 1.5},
          "encoding": {
            "x": {"field": "lag", "type": "quantitative"},
            "y": {"field": "base", "type": "quantitative"},
            "y2": {"field": "top"}
          }
        },
        {
          "data": {"name": "arrows"},
          "mark": {"type": "point", "shape": "triangle-up", "filled": true, "color": "#707070", "size": 70, "opacity": 1, "yOffset": 5},
          "encoding": {"x": {"field": "lag", "type": "quantitative"}, "y": {"field": "top", "type": "quantitative"}}
        },
        {
          "data": {"name": "arrows"},
          "mark": {"type": "point", "shape": "triangle-down", "filled": true, "color": "#707070", "size": 70, "opacity": 1, "yOffset": -5},
          "encoding": {"x": {"field": "lag", "type": "quantitative"}, "y": {"field": "base", "type": "quantitative"}}
        },
        {
          "data": {"name": "note"},
          "mark": {"type": "rect", "fill": "white", "stroke": "#808080", "strokeWidth": 1.5},
          "encoding": {
            "x": {"field": "x1", "type": "quantitative"},
            "x2": {"field": "x2"},
            "y": {"field": "y1", "type": "quantitative"},
            "y2": {"field": "y2"}
          }
        },
        {
          "data": {"name": "note"},
          "mark": {"type": "text", "align": "left", "baseline": "top", "fontSize": 19.4, "lineHeight": 23, "lineBreak": "\n", "color": "black"},
          "encoding": {
            "x": {"field": "tx", "type": "quantitative"},
            "y": {"field": "ty", "type": "quantitative"},
            "text": {"field": "text"}
          }
        }
      ]
    }
  ]
}
